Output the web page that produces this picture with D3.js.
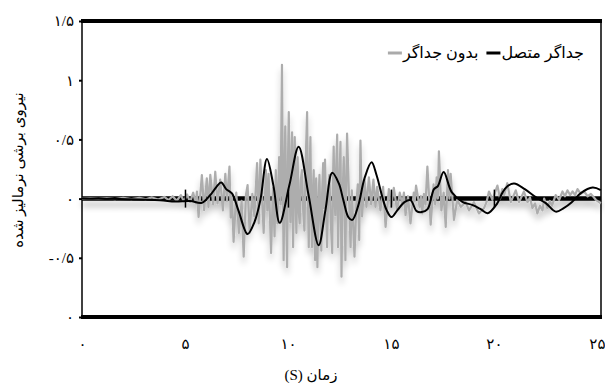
<!DOCTYPE html>
<html><head><meta charset="utf-8">
<script src="https://cdn.jsdelivr.net/npm/d3@7"></script>
<style>body{margin:0;background:#fff} svg{display:block}</style>
</head><body>
<svg id="c" width="605" height="383"></svg>
<script>
const xTicks=[0,5,10,15,20,25];
const xTickLabels=["۰","۵","۱۰","۱۵","۲۰","۲۵"];
const yTicks=[-1,-0.5,0,0.5,1,1.5];
const yTickLabels=["۰","-۰/۵","۰","۰/۵","۱","۱/۵"];
const seriesNames=["جداگر متصل","بدون جداگر"];
const xTitle="زمان (S)";
const yTitle="نیروی برشی نرمالیز شده";

// series 1: connected isolator (black)
const isoT=[0,1.85,3.79,4.52,5.25,5.82,6.23,6.52,6.76,7.0,7.28,7.59,8.04,8.37,8.66,8.98,9.29,9.6,10.07,10.52,11.0,11.49,11.82,12.15,12.47,12.69,12.94,13.13,13.42,13.72,14.06,14.3,14.58,14.79,15.03,15.32,15.66,15.95,16.25,16.49,16.78,17.09,17.28,17.56,17.95,18.47,18.97,19.36,19.7,20.14,20.43,20.67,20.98,21.5,22.03,22.52,23.0,23.39,23.78,24.22,24.79,25.19];
const isoV=[0,-0.004,-0.013,-0.025,-0.02,-0.035,0.03,0.097,0.137,0.08,0.044,-0.097,-0.3,-0.2,-0.013,0.334,0.114,-0.205,0.114,0.438,0.03,-0.393,-0.097,0.218,0.128,-0.013,-0.159,-0.18,-0.055,0.173,0.306,0.199,0.015,-0.097,-0.156,-0.097,-0.03,-0.013,-0.106,-0.114,-0.089,0.08,0.106,0.224,0.055,-0.027,-0.055,-0.089,-0.123,-0.046,0.055,0.106,0.127,0.08,0.013,-0.038,-0.11,-0.08,-0.03,0.046,0.093,0.072];

// series 2: without isolator (grey)
const fixT=[0,0.4,0.8,1.2,1.6,2.0,2.4,2.8,3.1,3.4,3.7,4.0,4.2,4.4,4.6,4.8,4.95,5.1,5.25,5.4,5.52,5.58,5.66,5.82,5.93,6.06,6.14,6.23,6.37,6.47,6.58,6.71,6.84,6.96,7.04,7.16,7.22,7.28,7.36,7.49,7.62,7.75,7.85,7.96,8.04,8.14,8.27,8.37,8.5,8.58,8.66,8.82,8.93,9.0,9.06,9.18,9.27,9.35,9.41,9.49,
9.57,9.64,9.71,9.75,9.79,9.83,9.87,9.91,9.96,10.0,10.04,10.08,10.12,10.16,10.2,10.225,10.25,10.29,10.33,10.37,10.41,10.44,10.47,10.52,10.57,10.62,10.68,10.74,10.8,10.86,10.93,10.97,11.01,11.05,11.09,11.13,11.17,11.21,11.25,11.28,11.32,11.35,11.37,11.4,11.43,11.48,11.53,11.57,11.62,11.66,11.71,11.74,11.8,11.85,11.9,11.95,12.01,12.08,12.15,12.18,12.22,12.26,12.3,12.35,12.39,12.41,12.43,12.49,12.55,12.57,12.6,12.65,12.71,12.75,12.79,12.83,12.87,
13.04,13.1,13.23,13.32,13.39,13.46,13.52,13.6,13.72,13.81,13.93,14.04,14.15,14.25,14.33,14.49,14.62,14.74,14.9,15.01,15.14,15.3,15.43,15.55,15.63,15.71,15.83,15.95,16.11,16.16,16.22,16.39,16.46,16.52,16.6,16.68,16.77,16.93,17.07,17.15,17.22,17.28,17.33,17.45,17.56,17.66,17.77,17.84,17.9,18.06,18.22,18.39,18.63,18.79,19.03,19.27,19.52,19.64,19.76,19.93,20.17,20.3,20.41,20.5,20.65,20.82,21.06,21.22,21.46,21.63,21.75,21.87,22.0,22.11,22.24,22.36,22.44,22.6,22.72,22.82,23.0,23.17,23.33,23.45,23.57,23.7,23.82,23.94,24.06,24.22,24.38,24.55,24.71,24.95,25.19];
const fixV=[0,0.004,-0.003,0.005,-0.004,0.006,-0.005,0.007,-0.006,0.01,-0.008,0.014,-0.012,0.02,-0.018,0.03,-0.025,0.035,-0.03,0.05,-0.04,0.06,-0.154,0.199,-0.097,0.171,-0.07,0.2,-0.05,0.227,-0.04,0.16,-0.1,0.21,-0.02,0.27,-0.16,0.02,-0.365,0.05,-0.29,-0.02,-0.49,0.03,0.114,-0.29,0.04,-0.15,0.3,-0.21,0.33,-0.29,0.24,-0.1,0.21,-0.46,0.09,-0.32,0.24,-0.21,
0.35,-0.05,1.13,0.1,-0.52,0.2,0.61,-0.1,-0.58,0.3,0.73,0.1,-0.2,0.3,0.56,0.0,-0.41,0.2,0.52,0.0,-0.29,0.1,0.35,-0.1,-0.21,0.15,0.24,-0.1,-0.27,0.3,0.73,0.0,-0.41,0.2,0.52,-0.1,-0.41,0.05,0.24,-0.2,-0.52,0.0,0.17,-0.2,-0.58,-0.05,0.2,-0.15,-0.44,0.05,0.3,-0.08,0.33,-0.1,-0.41,0.05,0.2,-0.2,-0.46,0.1,0.44,0.0,-0.14,0.3,0.54,0.0,-0.41,0.1,0.48,0.0,-0.66,0.0,0.35,0.0,-0.52,0.1,0.55,
-0.41,0.07,-0.49,-0.05,0.12,-0.35,0.49,-0.15,0.16,-0.07,0.18,-0.05,0.16,-0.07,0.1,-0.1,0.1,-0.24,0.08,-0.07,0.09,-0.1,0.05,-0.05,0.05,-0.14,0.02,-0.21,0.05,-0.02,0.11,-0.07,0.02,-0.125,0.04,-0.05,0.27,-0.22,0.12,-0.05,0.18,0.0,0.4,-0.1,0.05,-0.24,0.24,0.0,0.21,-0.18,-0.01,-0.07,-0.03,-0.1,-0.03,-0.125,-0.08,-0.03,0.06,-0.01,0.11,0.0,0.08,0.03,0.13,-0.03,0.07,-0.03,0.06,-0.03,0.01,-0.08,-0.04,-0.125,-0.06,-0.1,0.0,-0.08,-0.02,-0.06,0.03,-0.01,0.06,0.02,0.07,0.03,0.06,0.03,0.08,0.04,0.06,0.02,0.04,-0.01,-0.04];

const svg=d3.select("#c");
const FONT="'Liberation Serif', 'DejaVu Sans', serif";
const x=d3.scaleLinear().domain([0,25.2]).range([82,601]);
const y=d3.scaleLinear().domain([-1,1.5]).range([317,21]);

const defs=svg.append("defs");
const f=defs.append("filter").attr("id","sh").attr("x","-5%").attr("y","-20%").attr("width","110%").attr("height","160%");
f.append("feGaussianBlur").attr("in","SourceAlpha").attr("stdDeviation",3).attr("result","b");
f.append("feOffset").attr("in","b").attr("dy",6).attr("result","o");
f.append("feComponentTransfer").attr("in","o").attr("result","o2").append("feFuncA").attr("type","linear").attr("slope",0.25);
const m=f.append("feMerge"); m.append("feMergeNode").attr("in","o2"); m.append("feMergeNode").attr("in","SourceGraphic");

// frame
svg.append("line").attr("x1",x(0)).attr("x2",x(0)).attr("y1",y(1.5)).attr("y2",y(-1)).attr("stroke","#000").attr("stroke-width",1.5);
svg.append("line").attr("x1",x.range()[1]).attr("x2",x.range()[1]).attr("y1",y(1.5)).attr("y2",y(-1)).attr("stroke","#000").attr("stroke-width",1.5);
svg.append("line").attr("x1",x(0)-1).attr("x2",x.range()[1]+1).attr("y1",y(1.5)).attr("y2",y(1.5)).attr("stroke","#000").attr("stroke-width",4);
svg.append("line").attr("x1",x(0)-1).attr("x2",x.range()[1]+1).attr("y1",y(-1)).attr("y2",y(-1)).attr("stroke","#000").attr("stroke-width",4);

// y axis ticks + labels
const ya=svg.append("g").attr("transform",`translate(${x(0)},0)`)
  .call(d3.axisLeft(y).tickValues(yTicks).tickSize(3).tickPadding(5).tickFormat((d,i)=>yTickLabels[i]));
ya.select(".domain").remove();
ya.selectAll("line").attr("stroke","#000").attr("stroke-width",2);
ya.selectAll("text").attr("font-family",FONT).attr("font-size",15).attr("fill","#000");

const plot=svg.append("g").attr("filter","url(#sh)");
// zero axis line
plot.append("line").attr("x1",x(0)).attr("x2",x.range()[1]).attr("y1",y(0)).attr("y2",y(0)).attr("stroke","#000").attr("stroke-width",4.5);
const line=d3.line().x(d=>x(d[0])).y(d=>y(d[1]));
plot.append("path").datum(fixT.map((t,i)=>[t,fixV[i]])).attr("d",line).attr("fill","none").attr("stroke","#adadad").attr("stroke-width",2.2).attr("stroke-linejoin","round");

// x ticks crossing zero line
const xa=svg.append("g").attr("transform",`translate(0,${y(0)})`)
  .call(d3.axisBottom(x).tickValues(xTicks.slice(1,5)).tickSize(9).tickFormat(""));
xa.select(".domain").remove();
xa.selectAll(".tick line").attr("y1",-9).attr("stroke","#000").attr("stroke-width",1.5);

svg.append("path").datum(isoT.map((t,i)=>[t,isoV[i]])).attr("d",d3.line().x(d=>x(d[0])).y(d=>y(d[1])).curve(d3.curveCatmullRom)).attr("fill","none").attr("stroke","#000").attr("stroke-width",2);

// x labels
const xl=svg.append("g").attr("transform","translate(0,346)")
  .call(d3.axisBottom(x).tickValues(xTicks).tickSize(0).tickFormat((d,i)=>xTickLabels[i]));
xl.select(".domain").remove();
xl.selectAll("text").attr("font-family",FONT).attr("font-size",15).attr("fill","#000").attr("dy","0");

// titles
svg.append("text").attr("x",311).attr("y",380).attr("text-anchor","middle").attr("direction","rtl")
  .attr("font-family",FONT).attr("font-size",15).text(xTitle);
svg.append("text").attr("transform","translate(23,170) rotate(-90)").attr("text-anchor","middle")
  .attr("font-family",FONT).attr("font-size",15).text(yTitle);

// legend
const lg=svg.append("g");
const t1=lg.append("text").attr("x",584).attr("y",58).attr("text-anchor","end").attr("font-family",FONT).attr("font-size",16).text(seriesNames[0]);
const w1=t1.node().getComputedTextLength();
const d1x=584-w1-1;
lg.append("line").attr("x1",d1x-14).attr("x2",d1x).attr("y1",53).attr("y2",53).attr("stroke","#000").attr("stroke-width",3);
const t2x=d1x-14-8;
const t2=lg.append("text").attr("x",t2x).attr("y",58).attr("text-anchor","end").attr("font-family",FONT).attr("font-size",16).text(seriesNames[1]);
const w2=t2.node().getComputedTextLength();
lg.append("line").attr("x1",t2x-w2-15).attr("x2",t2x-w2-1).attr("y1",53).attr("y2",53).attr("stroke","#aaa").attr("stroke-width",3);
</script>
</body></html>
